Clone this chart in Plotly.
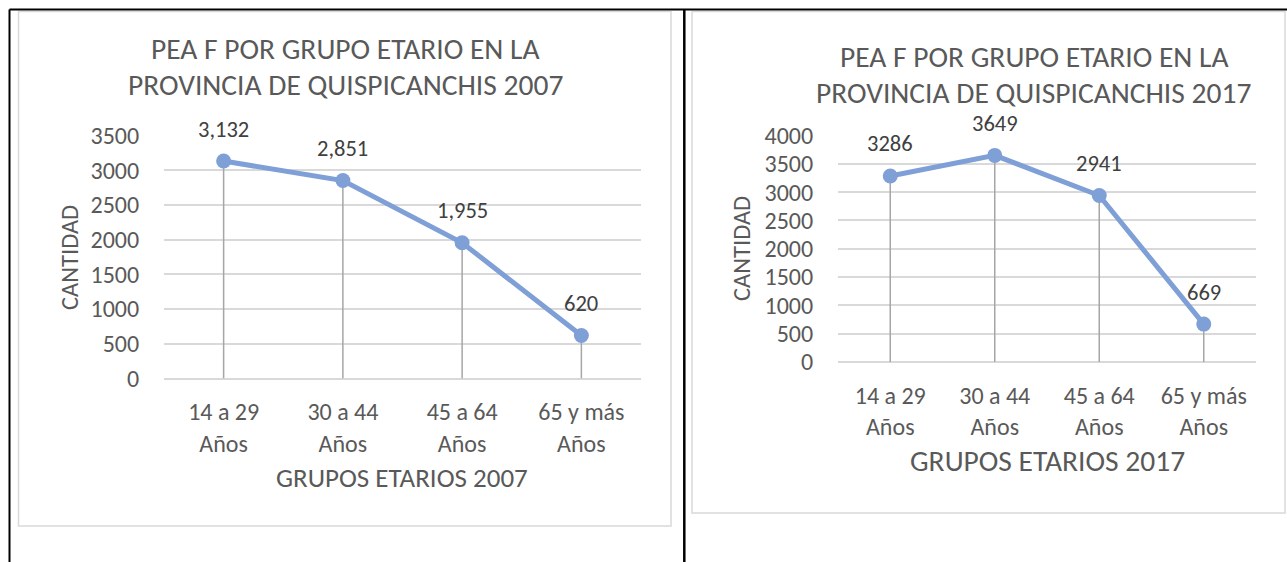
import plotly.graph_objects as go

# ---------------- data ----------------
categories = ["14 a 29<br>Años", "30 a 44<br>Años", "45 a 64<br>Años", "65 y más<br>Años"]
values_2007 = [3132, 2851, 1955, 620]
values_2017 = [3286, 3649, 2941, 669]
labels_2007 = ["3,132", "2,851", "1,955", "620"]
labels_2017 = ["3286", "3649", "2941", "669"]
yticks_2007 = [0, 500, 1000, 1500, 2000, 2500, 3000, 3500]
yticks_2017 = [0, 500, 1000, 1500, 2000, 2500, 3000, 3500, 4000]
title_2007 = ["PEA F POR GRUPO ETARIO EN LA", "PROVINCIA DE QUISPICANCHIS 2007"]
title_2017 = ["PEA F POR GRUPO ETARIO EN LA", "PROVINCIA DE QUISPICANCHIS 2017"]
xtitle_2007 = "GRUPOS ETARIOS 2007"
xtitle_2017 = "GRUPOS ETARIOS 2017"
ytitle = "CANTIDAD"

# ---------------- styling ----------------
W, H = 1287, 562
FONT = "Carlito, Lato, sans-serif"
TXT = "#595959"
LINE_C = "#7F9FD7"
DROP_C = "#A6A6A6"
GRID_C = "#D9D9D9"


def px(x):
    return x / W


def py(y):
    return 1 - y / H


fig = go.Figure()

panels = [
    dict(xa="x", ya="y", vals=values_2007, labs=labels_2007, ticks=yticks_2007,
         xdom=[px(164), px(641)], ydom=[py(378.5), py(135.5)], yr=[0, 3500],
         title=title_2007, tpos=[(345, 49), (345, 85)],
         xt=xtitle_2007, xtpos=(402, 477), xtsize=27, ytpos=(70, 258)),
    dict(xa="x2", ya="y2", vals=values_2017, labs=labels_2017, ticks=yticks_2017,
         xdom=[px(838), px(1256)], ydom=[py(362), py(135.5)], yr=[0, 4000],
         title=title_2017, tpos=[(1034, 57), (1033, 93)],
         xt=xtitle_2017, xtpos=(1047, 461), xtsize=29.5, ytpos=(742, 249)),
]

annotations = []
for p in panels:
    # drop lines from each point to the category axis
    for c, v in zip(categories, p["vals"]):
        fig.add_trace(go.Scatter(
            x=[c, c], y=[0, v], mode="lines", xaxis=p["xa"], yaxis=p["ya"],
            line=dict(color=DROP_C, width=1.5), showlegend=False, hoverinfo="skip"))
    fig.add_trace(go.Scatter(
        x=categories, y=p["vals"], mode="lines+markers", xaxis=p["xa"], yaxis=p["ya"],
        line=dict(color=LINE_C, width=5), marker=dict(color=LINE_C, size=15),
        showlegend=False))
    for c, v, t in zip(categories, p["vals"], p["labs"]):
        annotations.append(dict(
            x=c, y=v, xref=p["xa"], yref=p["ya"], text=t, showarrow=False,
            yshift=32, font=dict(family=FONT, size=22.5, color="#404040")))
    for line, (cx, cy) in zip(p["title"], p["tpos"]):
        annotations.append(dict(
            x=px(cx), y=py(cy), xref="paper", yref="paper", text=line, showarrow=False,
            xanchor="center", yanchor="middle", font=dict(family=FONT, size=29.5, color=TXT)))
    annotations.append(dict(
        x=px(p["xtpos"][0]), y=py(p["xtpos"][1]), xref="paper", yref="paper", text=p["xt"],
        showarrow=False, xanchor="center", yanchor="middle",
        font=dict(family=FONT, size=p["xtsize"], color=TXT)))
    annotations.append(dict(
        x=px(p["ytpos"][0]), y=py(p["ytpos"][1]), xref="paper", yref="paper", text=ytitle,
        showarrow=False, textangle=-90, xanchor="center", yanchor="middle",
        font=dict(family=FONT, size=24.5, color=TXT)))

shapes = [
    # table borders
    dict(type="line", xref="paper", yref="paper", x0=px(9.5), x1=px(1287), y0=py(9.5), y1=py(9.5),
         line=dict(color="black", width=2)),
    dict(type="line", xref="paper", yref="paper", x0=px(9.5), x1=px(9.5), y0=py(9.5), y1=py(562),
         line=dict(color="black", width=2)),
    dict(type="line", xref="paper", yref="paper", x0=px(684.3), x1=px(684.3), y0=py(9.5), y1=py(562),
         line=dict(color="black", width=2.5)),
    # chart boxes
    dict(type="rect", xref="paper", yref="paper", x0=px(18.5), x1=px(671), y0=py(526), y1=py(11.5),
         line=dict(color=GRID_C, width=1.5), layer="below"),
    dict(type="rect", xref="paper", yref="paper", x0=px(692), x1=px(1285), y0=py(513), y1=py(11.5),
         line=dict(color=GRID_C, width=1.5), layer="below"),
]

layout = dict(
    width=W, height=H, margin=dict(l=0, r=0, t=0, b=0, pad=0, autoexpand=False),
    paper_bgcolor="white", plot_bgcolor="white",
    font=dict(family=FONT, color=TXT),
    annotations=annotations, shapes=shapes, showlegend=False,
)
for i, p in enumerate(panels):
    sfx = "" if i == 0 else "2"
    layout["xaxis" + sfx] = dict(
        domain=p["xdom"], anchor="y" + sfx, type="category", categoryorder="array",
        categoryarray=categories, range=[-0.5, 3.5], showgrid=False, zeroline=False,
        showline=False, ticks="outside", ticklen=12, tickcolor="rgba(0,0,0,0)",
        automargin=False,
        tickfont=dict(family=FONT, size=24, color=TXT), fixedrange=True)
    layout["yaxis" + sfx] = dict(
        domain=p["ydom"], anchor="x" + sfx, range=p["yr"], tickvals=p["ticks"],
        ticktext=[str(t) for t in p["ticks"]], showgrid=True, gridcolor=GRID_C, gridwidth=1.5,
        zeroline=True, zerolinecolor=GRID_C, zerolinewidth=1.5, showline=False,
        ticks="outside", ticklen=19, tickcolor="rgba(0,0,0,0)", automargin=False,
        tickfont=dict(family=FONT, size=24, color=TXT), fixedrange=True)

fig.update_layout(**layout)

fig.write_html(
    "out.html",
    config={"displayModeBar": False},
    post_script="document.body.style.margin='0';document.body.style.overflow='hidden';",
)
